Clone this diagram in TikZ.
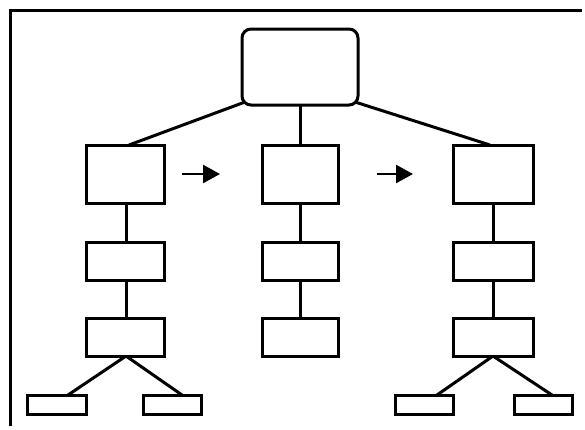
\documentclass[tikz,border=0pt]{standalone}
\usetikzlibrary{arrows.meta}
\begin{document}
\begin{tikzpicture}[x=1pt,y=-1pt,
  box/.style={draw=black, line width=3pt, inner sep=0pt, outer sep=0pt, fill=white},
  link/.style={draw=black, line width=3pt},
  arr/.style={draw=black, line width=2.6pt, -{Triangle[length=17pt,width=18pt]}},
  frameline/.style={draw=black, line width=3pt}]
\useasboundingbox (0,0) rectangle (585,429);
% frame
\coordinate (fa) at (10,426);
\coordinate (fb) at (10,10);
\coordinate (fc) at (582,10);
\draw[frameline] (fa) -- (fb) -- (fc);
% top
\node[box, rounded corners=9pt, minimum width=116pt, minimum height=76pt] (top) at (300,67) {};
% level 1
\node[box, minimum width=78pt, minimum height=58pt] (a1) at (125,174) {};
\node[box, minimum width=76pt, minimum height=58pt] (b1) at (300,174) {};
\node[box, minimum width=80pt, minimum height=58pt] (c1) at (493,174) {};
% level 2
\node[box, minimum width=78pt, minimum height=38pt] (a2) at (125,261) {};
\node[box, minimum width=76pt, minimum height=38pt] (b2) at (300,261) {};
\node[box, minimum width=80pt, minimum height=38pt] (c2) at (493,261) {};
% level 3
\node[box, minimum width=78pt, minimum height=38pt] (a3) at (125,337) {};
\node[box, minimum width=76pt, minimum height=38pt] (b3) at (300,337) {};
\node[box, minimum width=80pt, minimum height=38pt] (c3) at (493,337) {};
% leaves
\node[box, minimum width=59pt, minimum height=19pt] (la) at (56.5,404.5) {};
\node[box, minimum width=58pt, minimum height=19pt] (lb) at (172,404.5) {};
\node[box, minimum width=58pt, minimum height=19pt] (lc) at (424,404.5) {};
\node[box, minimum width=58pt, minimum height=19pt] (ld) at (543,404.5) {};
% connectors from top
\draw[link] ([shift={(3,-3)}]top.south west) -- ([xshift=4pt]a1.north);
\draw[link] (top.south) -- (b1.north);
\draw[link] ([shift={(-3,-3)}]top.south east) -- ([xshift=-3pt]c1.north);
% arrows
\draw[arr, shorten <=18pt, shorten >=42pt] (a1.east) -- (b1.west);
\draw[arr, shorten <=39pt, shorten >=40pt] (b1.east) -- (c1.west);
% verticals
\draw[link] ([xshift=1pt]a1.south) -- ([xshift=1pt]a2.north);
\draw[link] ([xshift=1pt]a2.south) -- ([xshift=1pt]a3.north);
\draw[link] (b1.south) -- (b2.north);
\draw[link] (b2.south) -- (b3.north);
\draw[link] (c1.south) -- (c2.north);
\draw[link] (c2.south) -- (c3.north);
% branches
\draw[link] ([xshift=1pt]a3.south) -- ([xshift=11.5pt]la.north);
\draw[link] ([xshift=1pt]a3.south) -- ([xshift=10pt]lb.north);
\draw[link] (c3.south) -- ([xshift=13pt]lc.north);
\draw[link] (c3.south) -- ([xshift=9pt]ld.north);
\end{tikzpicture}
\end{document}
